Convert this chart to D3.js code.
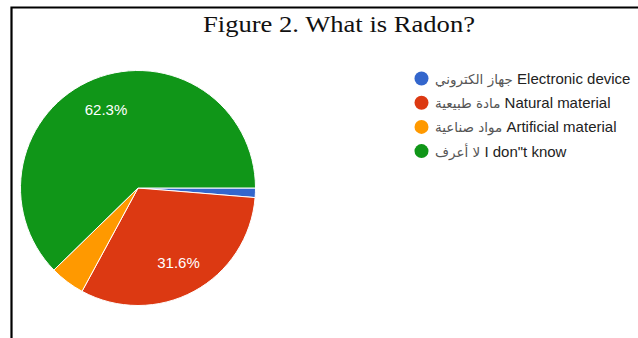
<!DOCTYPE html>
<html>
<head>
<meta charset="utf-8">
<script src="https://cdn.jsdelivr.net/npm/d3@7"></script>
<style>
  html, body { margin: 0; padding: 0; background: #fff; }
  svg { display: block; }
</style>
</head>
<body>
<svg id="chart" width="638" height="338"></svg>
<script>
// Survey answers: "What is Radon?"
const categoriesEn = ["Electronic device", "Natural material", "Artificial material", "I don\"t know"];
const categoriesAr = ["جهاز الكتروني", "مادة طبيعية", "مواد صناعية", "لا أعرف"];
const shares = [1.3, 31.6, 4.8, 62.3];
const sliceColors = ["#3366cc", "#dc3912", "#ff9900", "#109618"];
const labelledShares = ["31.6%", "62.3%"]; // only slices big enough carry a label
const titleText = "Figure 2. What is Radon?";

const svg = d3.select("#chart");
const W = 638, H = 338;

// frame (top and left rules of the figure box)
svg.append("path")
  .attr("d", `M11.5,${H} V7.5 H${W}`)
  .attr("fill", "none")
  .attr("stroke", "#000")
  .attr("stroke-width", 2.2);

// title
svg.append("text")
  .attr("x", 339)
  .attr("y", 31.5)
  .attr("text-anchor", "middle")
  .attr("font-family", "'Liberation Serif', 'Times New Roman', serif")
  .attr("font-size", 24)
  .attr("textLength", 272)
  .attr("lengthAdjust", "spacingAndGlyphs")
  .attr("fill", "#111")
  .text(titleText);

// pie
const cx = 138, cy = 188, R = 117.5;
const data = shares.map((v, i) => ({ en: categoriesEn[i], ar: categoriesAr[i], value: v, color: sliceColors[i] }));

const pie = d3.pie()
  .sort(null)
  .value(d => d.value)
  .startAngle(Math.PI / 2)
  .endAngle(Math.PI / 2 + 2 * Math.PI);

const arc = d3.arc().innerRadius(0).outerRadius(R);
const labelArc = d3.arc().innerRadius(85).outerRadius(85);

const g = svg.append("g").attr("transform", `translate(${cx},${cy})`);
const arcs = pie(data);

g.selectAll("path.slice")
  .data(arcs)
  .join("path")
  .attr("class", "slice")
  .attr("d", arc)
  .attr("fill", d => d.data.color)
  .attr("stroke", "#fff")
  .attr("stroke-width", 1);

g.selectAll("text.pct")
  .data(arcs.filter(d => labelledShares.includes(d.data.value.toFixed(1) + "%")))
  .join("text")
  .attr("class", "pct")
  .attr("transform", d => `translate(${labelArc.centroid(d)})`)
  .attr("text-anchor", "middle")
  .attr("dy", "0.36em")
  .attr("font-family", "'Liberation Sans', Arial, sans-serif")
  .attr("font-size", 15)
  .attr("fill", "#fff")
  .text(d => d.data.value.toFixed(1) + "%");

// legend
const legend = svg.append("g");
const lx = 421.5, ly0 = 78.5, lstep = 24.2;

const items = legend.selectAll("g.item")
  .data(data)
  .join("g")
  .attr("class", "item")
  .attr("transform", (d, i) => `translate(${lx},${ly0 + i * lstep})`);

items.append("circle")
  .attr("r", 7)
  .attr("fill", d => d.color);

const labels = items.append("text")
  .attr("x", 13.5)
  .attr("y", 5.5)
  .attr("font-family", "'Liberation Sans', Arial, sans-serif")
  .attr("font-size", 15)
  .attr("fill", "#222");

labels.append("tspan")
  .attr("font-size", 13.5)
  .attr("font-family", "'DejaVu Sans', sans-serif")
  .attr("fill", "#555")
  .text(d => d.ar);

labels.append("tspan")
  .text(d => " " + d.en);
</script>
</body>
</html>
